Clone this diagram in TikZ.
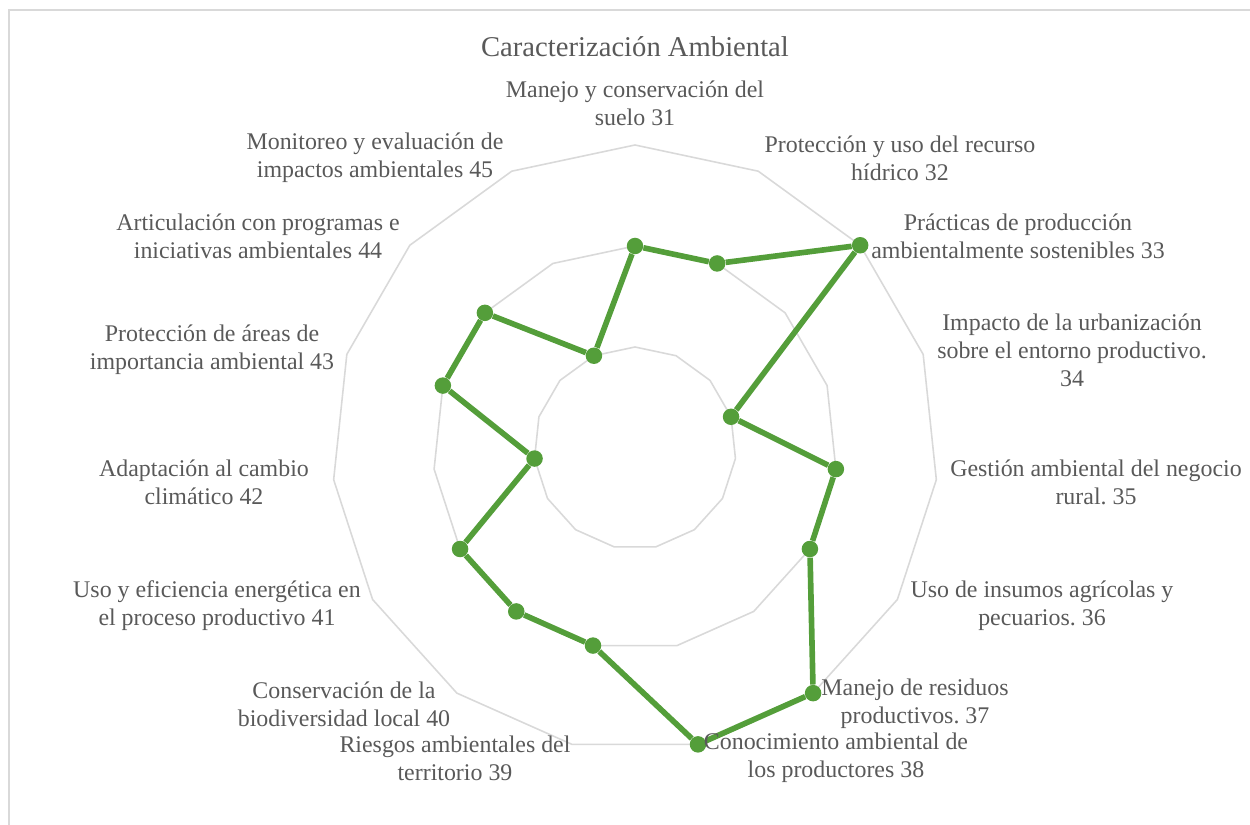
\documentclass[tikz,border=0pt]{standalone}
\usepackage{fontspec}
\setmainfont{Liberation Serif}
\usetikzlibrary{positioning}
\definecolor{txtgray}{HTML}{595959}
\definecolor{ringgray}{HTML}{D9D9D9}
\definecolor{seriegreen}{RGB}{84,158,58}
\frenchspacing
\begin{document}
\begin{tikzpicture}[
  ring/.style={draw=ringgray,line width=0.9pt,line join=round},
  serie/.style={draw=seriegreen,line width=3.2pt,line join=round},
  dot/.style={circle,fill=seriegreen,inner sep=0pt,minimum size=0.33cm},
  lbl/.style={align=center,text=txtgray,font=\fontsize{13.6}{15.9}\selectfont},
  ttl/.style={text=txtgray,font=\fontsize{16.3}{19}\selectfont}]
\clip (-12.7,-7.52) rectangle (12.3,8.96);
\draw[ringgray,line width=0.8pt] (-12.52,-7.8) rectangle (12.6,8.76);

% rings
\draw[ring] (90:2.02) -- (66:2.02) -- (42:2.02) -- (18:2.02) -- (-6:2.02) -- (-30:2.02) -- (-54:2.02) -- (-78:2.02) -- (-102:2.02) -- (-126:2.02) -- (-150:2.02) -- (-174:2.02) -- (162:2.02) -- (138:2.02) -- (114:2.02) -- cycle;
\draw[ring] (90:4.04) -- (66:4.04) -- (42:4.04) -- (18:4.04) -- (-6:4.04) -- (-30:4.04) -- (-54:4.04) -- (-78:4.04) -- (-102:4.04) -- (-126:4.04) -- (-150:4.04) -- (-174:4.04) -- (162:4.04) -- (138:4.04) -- (114:4.04) -- cycle;
\draw[ring] (90:6.06) -- (66:6.06) -- (42:6.06) -- (18:6.06) -- (-6:6.06) -- (-30:6.06) -- (-54:6.06) -- (-78:6.06) -- (-102:6.06) -- (-126:6.06) -- (-150:6.06) -- (-174:6.06) -- (162:6.06) -- (138:6.06) -- (114:6.06) -- cycle;

% data points
\node[dot] (p31) at (90:4.04) {};
\node[dot] (p32) at (66:4.04) {};
\node[dot] (p33) at (42:6.06) {};
\node[dot] (p34) at (18:2.02) {};
\node[dot] (p35) at (-6:4.04) {};
\node[dot] (p36) at (-30:4.04) {};
\node[dot] (p37) at (-54:6.06) {};
\node[dot] (p38) at (-78:6.06) {};
\node[dot] (p39) at (-102:4.04) {};
\node[dot] (p40) at (-126:4.04) {};
\node[dot] (p41) at (-150:4.04) {};
\node[dot] (p42) at (-174:2.02) {};
\node[dot] (p43) at (162:4.04) {};
\node[dot] (p44) at (138:4.04) {};
\node[dot] (p45) at (114:2.02) {};
\draw[serie] (p31) -- (p32) -- (p33) -- (p34) -- (p35) -- (p36) -- (p37) -- (p38) -- (p39) -- (p40) -- (p41) -- (p42) -- (p43) -- (p44) -- (p45) -- (p31);

% labels
\node[ttl] (title) at (0,8.02) {Caracterización Ambiental};
\node[lbl] (l31) at (0,6.90) {Manejo y conservación del\\suelo 31};
\node[lbl] (l32) at (5.30,5.80) {Protección y uso del recurso\\hídrico 32};
\node[lbl] (l33) at (7.66,4.24) {Prácticas de producción\\ambientalmente sostenibles 33};
\node[lbl] (l34) at (8.74,1.96) {Impacto de la urbanización\\sobre el entorno productivo.\\34};
\node[lbl] (l35) at (9.22,-0.68) {Gestión ambiental del negocio\\rural. 35};
\node[lbl] (l36) at (8.14,-3.16) {Uso de insumos agrícolas y\\pecuarios. 36};
\node[lbl] (l37) at (5.60,-5.12) {Manejo de residuos\\productivos. 37};
\node[lbl] (l38) at (4.02,-6.20) {Conocimiento ambiental de\\los productores 38};
\node[lbl] (l39) at (-3.60,-6.20) {Riesgos ambientales del\\territorio 39};
\node[lbl] (l40) at (-5.82,-5.12) {Conservación de la\\biodiversidad local 40};
\node[lbl] (l41) at (-8.36,-3.16) {Uso y eficiencia energética en\\el proceso productivo 41};
\node[lbl] (l42) at (-8.62,-0.68) {Adaptación al cambio\\climático 42};
\node[lbl] (l43) at (-8.46,1.96) {Protección de áreas de\\importancia ambiental 43};
\node[lbl] (l44) at (-7.54,4.24) {Articulación con programas e\\iniciativas ambientales 44};
\node[lbl] (l45) at (-5.20,5.80) {Monitoreo y evaluación de\\impactos ambientales 45};

\end{tikzpicture}
\end{document}
